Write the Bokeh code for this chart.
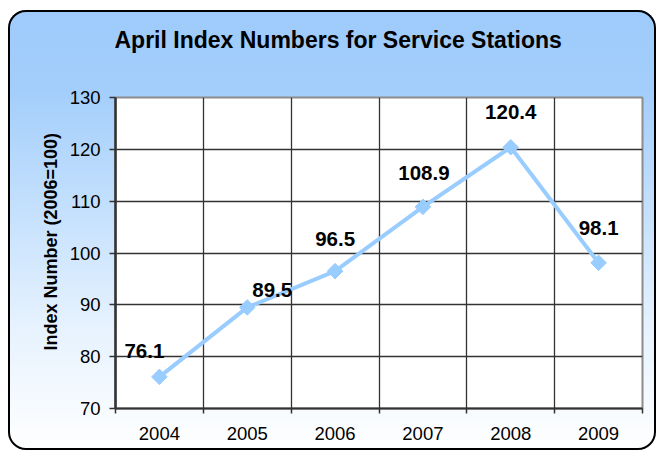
import numpy as np
from bokeh.plotting import figure
from bokeh.models import Title, FixedTicker, ColumnDataSource
from bokeh.core.properties import value
from bokeh.embed import file_html
from bokeh.resources import INLINE

# ---- data ----
years = [2004, 2005, 2006, 2007, 2008, 2009]
index_values = [76.1, 89.5, 96.5, 108.9, 120.4, 98.1]
value_labels = ["76.1", "89.5", "96.5", "108.9", "120.4", "98.1"]
y_ticks = [70, 80, 90, 100, 110, 120, 130]
title_text = "April Index Numbers for Service Stations"
y_title = "Index Number (2006=100)"

# label pixel offsets (style)
lbl_dx = [-15, 25, 0, 1, 0, 0]
lbl_dy = [-26, -17, -32, -34, -35, -35]

FONT = "Liberation Sans"
W, H = 648, 440
BL, BT, FW, FH = 107, 87, 527, 311   # frame placement inside canvas

p = figure(width=W, height=H, frame_width=FW, frame_height=FH,
           x_range=(years[0] - 0.5, years[-1] + 0.5), y_range=(y_ticks[0], y_ticks[-1]),
           output_backend="svg", toolbar_location=None,
           min_border_left=BL, min_border_right=W - BL - FW, min_border_top=BT,
           min_border_bottom=H - BT - FH)

p.styles = {
    "background": "linear-gradient(to bottom, #9ecbfb 0%, #a3cefb 18%, #c4e0fd 45%, #e6f2fe 72%, #ffffff 100%)",
    "border-radius": "18px",
    "box-shadow": "inset 0 0 0 2px #000000",
    "margin-top": "10px",
    "margin-left": "8px",
}
p.border_fill_alpha = 0
p.background_fill_color = "white"
p.outline_line_color = "#8c8c8c"
p.outline_line_width = 2

# spacer between title and frame (nearest the frame)
p.add_layout(Title(text=" ", text_font_size="1px", standoff=40), "above")

# title (outermost)
p.title.text = title_text
p.title.align = "left"
p.title.offset = -1
p.title.standoff = 0
p.title.vertical_align = "top"
p.title.text_font = FONT
p.title.text_font_size = "23px"
p.title.text_font_style = "bold"
p.title.text_color = "black"

# y title as a left-side title
p.add_layout(Title(text=y_title, align="left", offset=58, standoff=12,
                   text_font=FONT, text_font_size="18px", text_font_style="bold",
                   text_color="black"), "left")

# boundaries between categories
bounds = [y - 0.5 for y in years] + [years[-1] + 0.5]

# x axis
p.xaxis.ticker = FixedTicker(ticks=years, minor_ticks=bounds)
p.xaxis.major_tick_out = 0
p.xaxis.major_tick_in = 0
p.xaxis.minor_tick_out = 5
p.xaxis.minor_tick_in = 0
p.xaxis.minor_tick_line_color = "#333333"
p.xaxis.minor_tick_line_width = 1.5
p.xaxis.axis_line_color = "#333333"
p.xaxis.axis_line_width = 2
p.xaxis.major_label_text_font = FONT
p.xaxis.major_label_text_font_size = "18.5px"
p.xaxis.major_label_text_color = "black"
p.xaxis.major_label_standoff = 13
p.xaxis.major_label_overrides = {y: str(y) for y in years}

# y axis
p.yaxis.ticker = FixedTicker(ticks=y_ticks, minor_ticks=[])
p.yaxis.major_tick_out = 6
p.yaxis.major_tick_in = 0
p.yaxis.major_tick_line_color = "#333333"
p.yaxis.major_tick_line_width = 1.5
p.yaxis.axis_line_color = "#333333"
p.yaxis.axis_line_width = 2.5
p.yaxis.major_label_text_font = FONT
p.yaxis.major_label_text_font_size = "18.5px"
p.yaxis.major_label_text_color = "black"
p.yaxis.major_label_standoff = 9

# grids
p.xgrid.ticker = FixedTicker(ticks=bounds[1:-1])
p.ygrid.ticker = FixedTicker(ticks=y_ticks[1:-1])
for g in (p.xgrid, p.ygrid):
    g.grid_line_color = "#333333"
    g.grid_line_width = 1.3

src = ColumnDataSource(dict(x=years, y=index_values, t=value_labels, dx=lbl_dx, dy=lbl_dy))

p.line("x", "y", source=src, line_color="#99ccff", line_width=4)
p.scatter("x", "y", source=src, marker="square", angle=np.pi / 4, size=11,
          fill_color="#99ccff", line_color="#99ccff")
p.text("x", "y", text="t", source=src, x_offset="dx", y_offset="dy",
       text_font=value(FONT), text_font_size="20.5px", text_font_style="bold",
       text_align="center", text_baseline="middle", text_color="black")

open("out.html", "w").write(file_html(p, INLINE))
